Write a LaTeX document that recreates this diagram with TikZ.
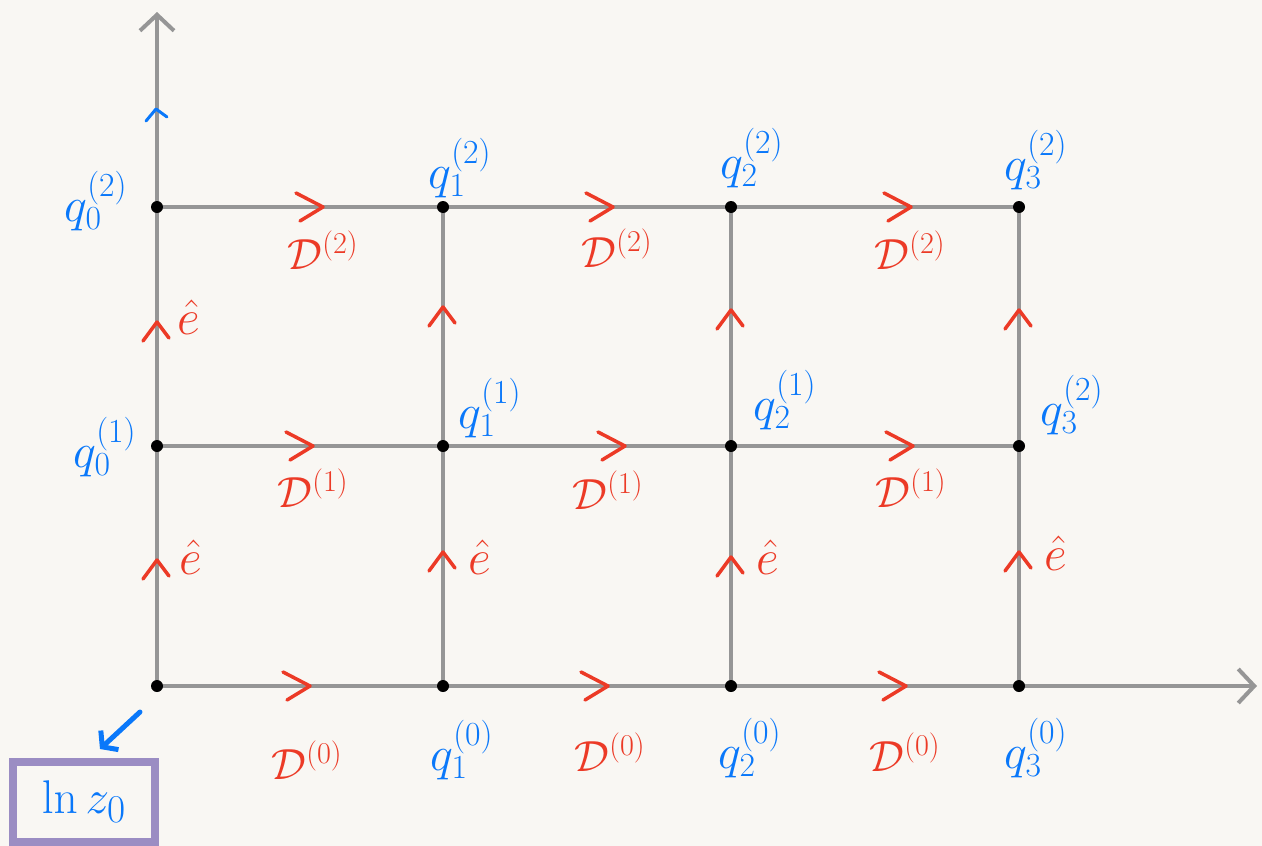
\documentclass[tikz,border=0pt]{standalone}
\usetikzlibrary{arrows.meta}
\definecolor{paper}{RGB}{249,247,243}
\definecolor{gridgray}{RGB}{150,150,150}
\definecolor{penred}{RGB}{236,58,38}
\definecolor{penblue}{RGB}{10,120,250}
\definecolor{boxpurple}{RGB}{145,130,190}
\newcommand{\qq}[2]{$q_{\scriptscriptstyle #1}^{\scriptscriptstyle (#2)}$}
\newcommand{\DD}[1]{$\mathcal{D}^{\scriptscriptstyle (#1)}$}
\begin{document}
\begin{tikzpicture}[x=1pt,y=-1pt,
  gridline/.style={draw=gridgray, line width=4pt},
  axisline/.style={gridline, -{Straight Barb[length=16pt,width=34pt]}},
  dot/.style={circle, fill=black, minimum size=12pt, inner sep=0pt},
  qlab/.style={text=penblue, font=\Huge, scale=1.95, inner sep=0pt},
  dlab/.style={text=penred, font=\Huge, scale=1.75, inner sep=0pt},
  elab/.style={text=penred, font=\Huge, scale=2.0, inner sep=0pt},
  rchev/.pic={\draw[penred, line width=3.5pt, line cap=round, line join=round] (-14,-14) -- (13,0) -- (-10,14);},
  uchev/.pic={\draw[penred, line width=3.5pt, line cap=round, line join=round] (-14,11) -- (0,-8) -- (12,8);},
  bchev/.pic={\draw[penblue, line width=3pt, line cap=round, line join=round] (-10,9) -- (0,-3) -- (11,5);}
]
\fill[paper] (0,0) rectangle (1262,846);
\useasboundingbox (0,0) rectangle (1262,846);

% grid vertices
\foreach \c/\x in {0/157,1/443,2/731,3/1019}{
  \foreach \r/\y in {0/686,1/446,2/207}{
    \coordinate (p\c\r) at (\x,\y);
  }
}
\coordinate (ytop) at (157,12);
\coordinate (xend) at (1257,686);

% grid lines
\draw[gridline] (p01) -- (p31);
\draw[gridline] (p02) -- (p32);
\draw[gridline] (p10) -- (p12);
\draw[gridline] (p20) -- (p22);
\draw[gridline] (p30) -- (p32);
\draw[axisline] (p00) -- (ytop);
\draw[axisline] (p00) -- (xend);

% dots
\foreach \c in {0,1,2,3}{\foreach \r in {0,1,2}{\node[dot] (d\c\r) at (p\c\r) {};}}

% horizontal chevrons
\foreach \x/\y in {310/207,600/207,898/207,300/446,612/446,900/446,297/686,595/686,893/686}{
  \pic at (\x,\y) {rchev};
}
% vertical chevrons
\foreach \x/\y in {157/330,157/568,443/315,443/560,731/318,731/565,1019/318,1019/560}{
  \pic at (\x,\y) {uchev};
}
\pic at (156,112) {bchev};

% e-hat labels
\node[elab] (e1) at (189,317) {$\hat{e}$};
\node[elab] (e2) at (191,557) {$\hat{e}$};
\node[elab] (e3) at (480,557) {$\hat{e}$};
\node[elab] (e4) at (768,557) {$\hat{e}$};
\node[elab] (e5) at (1056,553) {$\hat{e}$};

% D labels
\node[dlab] (D21) at (323,250) {\DD{2}};
\node[dlab] (D22) at (617,248) {\DD{2}};
\node[dlab] (D23) at (910,250) {\DD{2}};
\node[dlab] (D11) at (313,488) {\DD{1}};
\node[dlab] (D12) at (608,490) {\DD{1}};
\node[dlab] (D13) at (911,488) {\DD{1}};
\node[dlab] (D01) at (307,760) {\DD{0}};
\node[dlab] (D02) at (610,752) {\DD{0}};
\node[dlab] (D03) at (905,752) {\DD{0}};

% q labels
\node[qlab] (q02) at (96,201) {\qq{0}{2}};
\node[qlab] (q12) at (460,168) {\qq{1}{2}};
\node[qlab] (q22) at (752,158) {\qq{2}{2}};
\node[qlab] (q32) at (1036,160) {\qq{3}{2}};
\node[qlab] (q01) at (105,447) {\qq{0}{1}};
\node[qlab] (q11) at (490,408) {\qq{1}{1}};
\node[qlab] (q21) at (785,400) {\qq{2}{1}};
\node[qlab] (q31) at (1072,405) {\qq{3}{2}};
\node[qlab] (q10) at (462,750) {\qq{1}{0}};
\node[qlab] (q20) at (750,748) {\qq{2}{0}};
\node[qlab] (q30) at (1036,748) {\qq{3}{0}};

% ln z0 box
\node[draw=boxpurple, draw opacity=0.9, line width=8pt, minimum width=142pt, minimum height=80pt, inner sep=0pt] (lnz) at (84,802) {};
\node[text=penblue, font=\Huge, scale=1.9, inner sep=0pt] (lnztext) at (lnz.center) {$\ln z_0$};
\coordinate (arrstart) at (140,712);
\coordinate (arrend) at (100,749);
\draw[penblue, line width=5pt, line cap=round, -{Straight Barb[length=10pt,width=26pt]}]
  (arrstart) -- (arrend);
\end{tikzpicture}
\end{document}
